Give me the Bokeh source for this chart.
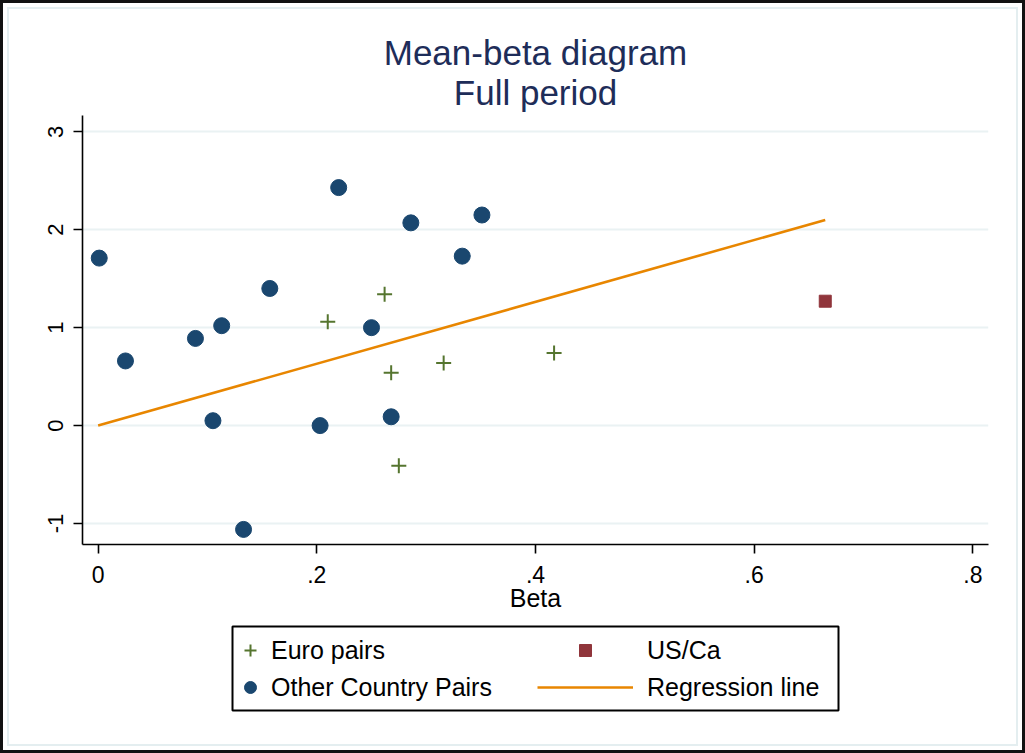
from bokeh.plotting import figure
from bokeh.layouts import column
from bokeh.models import (Legend, LegendItem, FixedTicker, Title, Range1d, BoxAnnotation)
from bokeh.embed import file_html
from bokeh.resources import INLINE

# ---- data ----
euro_beta = [0.210, 0.262, 0.268, 0.316, 0.417, 0.275]
euro_mean = [1.06, 1.34, 0.54, 0.64, 0.74, -0.41]

other_beta = [0.001, 0.025, 0.089, 0.113, 0.157, 0.105, 0.203, 0.220,
              0.286, 0.351, 0.333, 0.250, 0.268, 0.133]
other_mean = [1.71, 0.66, 0.89, 1.02, 1.40, 0.05, 0.00, 2.43,
              2.07, 2.15, 1.73, 1.00, 0.09, -1.06]

usca_beta = [0.665]
usca_mean = [1.27]

reg_beta = [0.0, 0.665]
reg_mean = [0.0, 2.10]

x_ticks = [0, 0.2, 0.4, 0.6, 0.8]
x_tick_labels = ["0", ".2", ".4", ".6", ".8"]
y_ticks = [-1, 0, 1, 2, 3]
y_tick_labels = ["-1", "0", "1", "2", "3"]

FONT = "Liberation Sans"
NAVY = "#1a476f"
GREEN = "#55752f"
MAROON = "#90353b"
ORANGE = "#e88600"
TITLE_C = "#1e2d59"
GRID_C = "#eaf2f3"

LEFT, RIGHT = 82, 37  # frame borders shared by both stacked figures

# ---------------- main plot ----------------
p = figure(width=1025, height=624, output_backend="svg", toolbar_location=None,
           x_range=Range1d(-0.0143, 0.8143), y_range=Range1d(-1.214, 3.166),
           min_border_left=LEFT, min_border_right=RIGHT, min_border_top=115,
           min_border_bottom=80, outline_line_color=None,
           background_fill_color="white", border_fill_color=None)

# titles
p.title.text = "Mean-beta diagram"
p.title.align = "center"
p.title.text_font = FONT
p.title.text_font_size = "35px"
p.title.text_font_style = "normal"
p.title.text_color = TITLE_C
p.title.standoff = -9
p.add_layout(Title(text="Full period", align="center", text_font=FONT,
                   text_font_size="35px", text_font_style="normal",
                   text_color=TITLE_C, standoff=7), "above")

# grid
p.xgrid.visible = False
p.ygrid.grid_line_color = GRID_C
p.ygrid.grid_line_width = 2
p.ygrid.ticker = FixedTicker(ticks=y_ticks)

# axes
p.xaxis.ticker = FixedTicker(ticks=x_ticks)
p.xaxis.major_label_overrides = {t: l for t, l in zip(x_ticks, x_tick_labels)}
p.yaxis.ticker = FixedTicker(ticks=y_ticks)
p.yaxis.major_label_overrides = {t: l for t, l in zip(y_ticks, y_tick_labels)}
p.yaxis.major_label_orientation = "vertical"
p.xaxis.axis_label = "Beta"
for ax in (p.xaxis[0], p.yaxis[0]):
    ax.axis_line_color = "black"
    ax.axis_line_width = 1.6
    ax.major_tick_line_color = "black"
    ax.major_tick_line_width = 1.6
    ax.major_tick_out = 9
    ax.major_tick_in = 0
    ax.minor_tick_line_color = None
    ax.major_label_text_font = FONT
    ax.major_label_text_color = "black"
    ax.axis_label_text_font = FONT
    ax.axis_label_text_font_style = "normal"
    ax.axis_label_text_color = "black"
p.xaxis.major_label_text_font_size = "23px"
p.yaxis.major_label_text_font_size = "22px"
p.xaxis.major_label_standoff = 12
p.yaxis.major_label_standoff = 10
p.xaxis.axis_label_text_font_size = "25px"
p.xaxis.axis_label_standoff = -2

# glyphs
styles = {
    "reg": dict(line_color=ORANGE, line_width=2.6),
    "other": dict(marker="circle", size=16, fill_color=NAVY, line_color=NAVY),
    "euro": dict(marker="cross", size=15, line_color=GREEN, line_width=2),
    "usca": dict(marker="square", size=12, fill_color=MAROON, line_color=MAROON),
}
p.line(reg_beta, reg_mean, **styles["reg"])
p.scatter(other_beta, other_mean, **styles["other"])
p.scatter(euro_beta, euro_mean, **styles["euro"])
p.scatter(usca_beta, usca_mean, **styles["usca"])

# ---------------- legend strip (frame aligned with the plot above) ----------------
q = figure(width=1025, height=129, output_backend="svg", toolbar_location=None,
           x_range=Range1d(LEFT, 1025 - RIGHT), y_range=Range1d(129, 0),
           x_axis_type=None, y_axis_type=None, title=None,
           min_border_left=LEFT, min_border_right=RIGHT,
           min_border_top=0, min_border_bottom=0, outline_line_color=None,
           background_fill_color=None, border_fill_color=None)
l_reg = q.line(reg_beta, reg_mean, visible=False, **styles["reg"])
l_other = q.scatter(other_beta, other_mean, visible=False, **styles["other"])
l_euro = q.scatter(euro_beta, euro_mean, visible=False, **styles["euro"])
l_usca = q.scatter(usca_beta, usca_mean, visible=False, **styles["usca"])

q.add_layout(BoxAnnotation(left=232, right=838, top=2, bottom=86,
                           fill_alpha=0, line_color="black", line_alpha=1,
                           line_width=2))

common = dict(label_text_font=FONT, label_text_font_size="25px",
              label_text_color="black", glyph_height=30, spacing=7,
              padding=0, margin=0, border_line_color=None,
              background_fill_alpha=0, inactive_fill_alpha=0)
legA = Legend(items=[LegendItem(label="Euro pairs", renderers=[l_euro]),
                     LegendItem(label="Other Country Pairs", renderers=[l_other])],
              location=(234 - LEFT, 51), glyph_width=32, label_standoff=5, **common)
legB = Legend(items=[LegendItem(label="US/Ca", renderers=[l_usca]),
                     LegendItem(label="Regression line", renderers=[l_reg])],
              location=(537 - LEFT, 51), glyph_width=96, label_standoff=14, **common)
q.add_layout(legA)
q.add_layout(legB)

layout = column(p, q, spacing=0)
layout.styles = {"box-shadow": "inset 0 0 0 3px #111, inset 0 0 0 7px #ffffff, "
                                "inset 0 0 0 9px #e4eef0"}

open("out.html", "w").write(file_html(layout, INLINE))
